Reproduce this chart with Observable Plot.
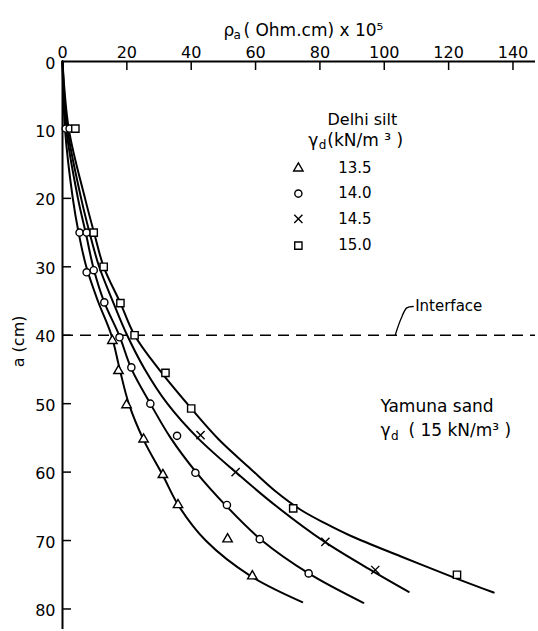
<!DOCTYPE html>
<html><head><meta charset="utf-8">
<script src="https://cdn.jsdelivr.net/npm/d3@7"></script>
<script src="https://cdn.jsdelivr.net/npm/@observablehq/plot@0.6"></script>
<style>body{margin:0;background:#fff}</style>
</head><body><div id="chart"></div>
<script>
// Axis ticks
const xTicks = [0, 20, 40, 60, 80, 100, 120, 140];
const yTicks = [0, 10, 20, 30, 40, 50, 60, 70, 80];
// Series (Delhi silt dry unit weight, kN/m3)
const seriesLabels = ["13.5", "14.0", "14.5", "15.0"];
const seriesSymbols = ["triangle", "circle", "times", "square"];

// Measured points [rho_a (x1e5 Ohm.cm), depth a (cm)]
const points135 = [[15.5,40.8],[17.4,45.2],[19.9,50.2],[25.2,55.2],[31.2,60.4],[35.9,64.8],[51.3,69.8],[59,75.2]];
const points140 = [[1,9.8],[2.2,9.8],[5.3,25],[7.5,25],[7.5,30.8],[9.7,30.5],[13,35.2],[17.7,40.3],[21.4,44.7],[27.3,50],[35.6,54.7],[41.3,60.1],[51.1,64.8],[61.3,69.8],[76.5,74.8]];
const points145 = [[42.9,54.6],[53.8,60],[81.7,70.2],[97.2,74.3]];
const points150 = [[4,9.8],[9.7,25],[12.8,30],[18,35.3],[22.4,40],[32,45.5],[40,50.7],[71.7,65.3],[122.6,75]];

// Fitted curves
const curve135 = [[0,0],[0.8,10],[3.2,20],[5,25],[7.4,30],[11,35],[15.2,40],[17.8,45],[20.6,50],[25.2,55.3],[31.2,60.5],[36.2,65],[44.5,70],[58.5,75.2],[74.5,79]];
const curve140 = [[0,0],[1.2,10],[4.8,20],[7.2,25],[9.8,30.5],[13,35.2],[17.6,40],[21.5,45],[27.3,50],[33.6,55],[41.5,60],[51,65],[62,70],[76.5,74.8],[93.5,79.1]];
const curve145 = [[0,0],[1.6,10],[5.8,20],[8.4,25],[11.4,30],[15.6,35],[20.1,40],[25.6,45],[32.6,50],[42,55],[53.8,60],[66.5,65],[81.5,70.2],[96.5,74.5],[107.6,77.5]];
const curve150 = [[0,0],[2,10],[7,20],[9.8,25],[12.8,30],[18,35.3],[22.4,40],[30,45],[40,50.7],[48.5,55.2],[58.4,59.5],[66.2,62.8],[74,65.5],[81.7,67.5],[89.5,69.3],[105,72.3],[122.7,75.6],[134,77.6]];

const allPoints = [points135, points140, points145, points150];
const allCurves = [curve135, curve140, curve145, curve150];

const font = "DejaVu Sans";
const X = d => d[0], Y = d => d[1];

const marks = [];
// curves
allCurves.forEach(c => marks.push(Plot.line(c, {x: X, y: Y, curve: "catmull-rom", stroke: "black", strokeWidth: 2})));
// interface line
marks.push(Plot.ruleY([40], {x1: 0, x2: 147, stroke: "black", strokeWidth: 1.5, strokeDasharray: "11,7"}));
// axes lines
marks.push(Plot.ruleY([0], {x1: 0, x2: 147, stroke: "black", strokeWidth: 2}));
marks.push(Plot.ruleX([0], {y1: 0, y2: 83, stroke: "black", strokeWidth: 2}));
// inward ticks
marks.push(Plot.ruleX(xTicks.slice(1), {x: d => d, y1: 0, y2: 0, insetBottom: -9, stroke: "black", strokeWidth: 1.5}));
marks.push(Plot.ruleY(yTicks.slice(1), {y: d => d, x1: 0, x2: 0, insetRight: -9, stroke: "black", strokeWidth: 1.5}));
// tick labels
marks.push(Plot.text(xTicks, {x: d => d, y: 0, dy: -9, text: d => String(d), fontSize: 16, fontFamily: font, fill: "black"}));
marks.push(Plot.text(yTicks, {x: 0, y: d => d, dx: -7, dy: 2, text: d => String(d), textAnchor: "end", fontSize: 16, fontFamily: font, fill: "black"}));
// points
const rFor = {triangle: 3.5, circle: 3.6, times: 3.8, square: 4.1};
allPoints.forEach((p, i) => marks.push(Plot.dot(p, {x: X, y: Y, symbol: seriesSymbols[i], r: rFor[seriesSymbols[i]], stroke: "black", fill: seriesSymbols[i] === "times" ? "none" : "white", strokeWidth: 1.4})));

// axis titles
marks.push(Plot.text(["ρ"], {x: 50, y: -4.5, text: d => d, textAnchor: "start", fontSize: 17, fontFamily: font}));
marks.push(Plot.text(["a"], {x: 50, y: -4.5, dx: 10, dy: 4, text: d => d, textAnchor: "start", fontSize: 12, fontFamily: font}));
marks.push(Plot.text(["( Ohm.cm) x 10⁵"], {x: 50, y: -4.5, dx: 20, text: d => d, textAnchor: "start", fontSize: 17, fontFamily: font}));
marks.push(Plot.text(["a (cm)"], {x: -13.7, y: 40.9, text: d => d, rotate: -90, fontSize: 16, fontFamily: font}));

// legend
marks.push(Plot.text(["Delhi silt"], {x: 93.2, y: 8.6, text: d => d, fontSize: 16, fontFamily: font}));
marks.push(Plot.text(["γ"], {x: 76.4, y: 11.5, text: d => d, textAnchor: "start", fontSize: 17, fontFamily: font}));
marks.push(Plot.text(["d"], {x: 76.4, y: 11.5, dx: 10.5, dy: 5, text: d => d, textAnchor: "start", fontSize: 12, fontFamily: font}));
marks.push(Plot.text(["(kN/m ³ )"], {x: 76.4, y: 11.5, dx: 19, text: d => d, textAnchor: "start", fontSize: 17, fontFamily: font}));
const legendDepths = [15.6, 19.3, 23.0, 26.9];
seriesSymbols.forEach((s, i) => {
  marks.push(Plot.dot([legendDepths[i]], {x: 73.3, y: d => d, symbol: s, r: rFor[s], stroke: "black", fill: s === "times" ? "none" : "white", strokeWidth: 1.4}));
});
marks.push(Plot.text(seriesLabels, {x: 85.7, y: (d, i) => legendDepths[i], text: d => d, textAnchor: "start", fontSize: 15, fontFamily: font}));

// annotations
marks.push(Plot.text(["Yamuna sand"], {x: 98.8, y: 50.4, text: d => d, textAnchor: "start", fontSize: 17, fontFamily: font}));
marks.push(Plot.text(["γ"], {x: 98.8, y: 54.0, text: d => d, textAnchor: "start", fontSize: 17, fontFamily: font}));
marks.push(Plot.text(["d"], {x: 98.8, y: 54.0, dx: 10.5, dy: 5, text: d => d, textAnchor: "start", fontSize: 12, fontFamily: font}));
marks.push(Plot.text(["( 15 kN/m³ )"], {x: 98.8, y: 54.0, dx: 28, text: d => d, textAnchor: "start", fontSize: 17, fontFamily: font}));
const interfaceLeader = [[103.4,40],[105.2,37.6],[107,36],[109,35.8]];
marks.push(Plot.line(interfaceLeader, {x: X, y: Y, curve: "catmull-rom", stroke: "black", strokeWidth: 1.3}));
marks.push(Plot.text(["Interface"], {x: 109.6, y: 35.8, text: d => d, textAnchor: "start", fontSize: 15, fontFamily: font}));

const chart = Plot.plot({
  width: 538,
  height: 631,
  marginLeft: 62,
  marginRight: 3,
  marginTop: 61,
  marginBottom: 2,
  x: {domain: [0, 147], axis: null},
  y: {domain: [0, 83], reverse: true, axis: null},
  style: {background: "white", fontFamily: font, color: "black"},
  marks
});
document.getElementById("chart").appendChild(chart);
</script>
</body></html>
